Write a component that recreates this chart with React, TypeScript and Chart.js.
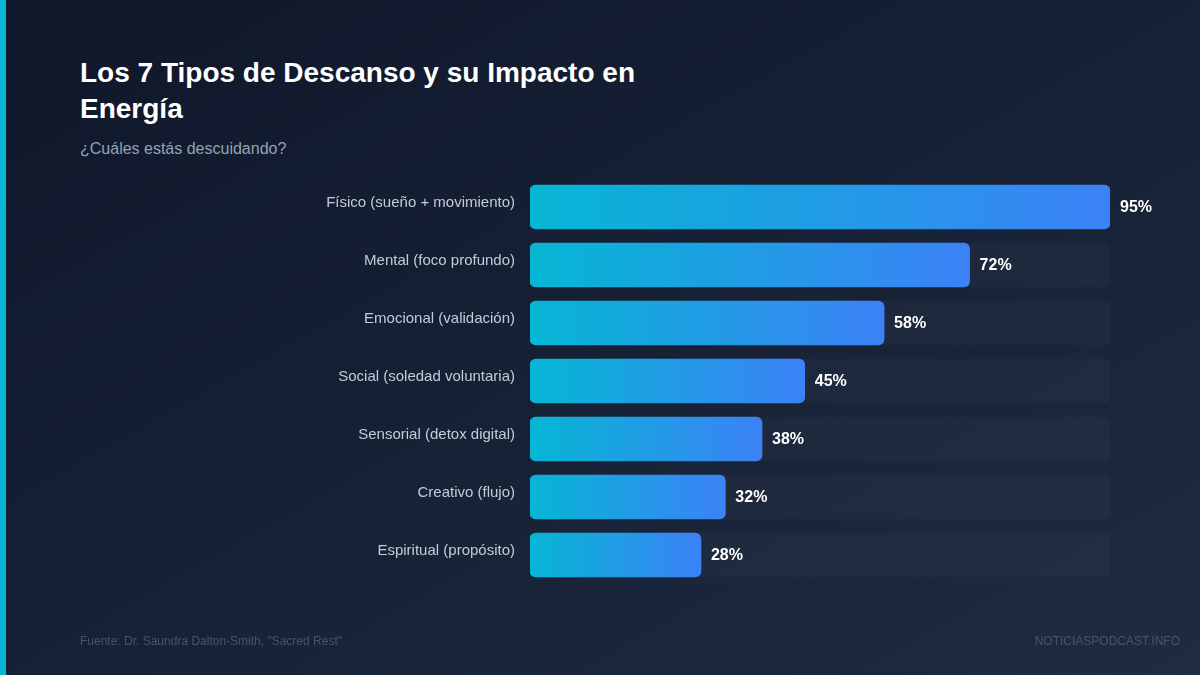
import { useRef, useEffect } from "react";
import { Chart, registerables } from "chart.js";
import type { Plugin } from "chart.js";

Chart.register(...registerables);

const CATEGORIES = [
  "Físico (sueño + movimiento)",
  "Mental (foco profundo)",
  "Emocional (validación)",
  "Social (soledad voluntaria)",
  "Sensorial (detox digital)",
  "Creativo (flujo)",
  "Espiritual (propósito)",
];
const VALUES = [95, 72, 58, 45, 38, 32, 28];
const TRACK = [95, 95, 95, 95, 95, 95, 95];

const FONT = "'Liberation Sans', Arial, sans-serif";

// value labels right after each bar
const valueLabels: Plugin<"bar"> = {
  id: "valueLabels",
  afterDatasetsDraw(chart) {
    const { ctx } = chart;
    const x = chart.scales.x;
    const y = chart.scales.y;
    ctx.save();
    ctx.font = `700 16px ${FONT}`;
    ctx.fillStyle = "#ffffff";
    ctx.textAlign = "left";
    ctx.textBaseline = "middle";
    VALUES.forEach((v, i) => {
      ctx.fillText(`${v}%`, x.getPixelForValue(v) + 10, y.getPixelForValue(i) + 1);
    });
    ctx.restore();
  },
};

export default function App() {
  const canvasRef = useRef<HTMLCanvasElement>(null);

  useEffect(() => {
    if (!canvasRef.current) return;
    document.body.style.margin = "0";

    const chart = new Chart(canvasRef.current, {
      type: "bar",
      data: {
        labels: CATEGORIES,
        datasets: [
          {
            label: "Impacto",
            data: VALUES,
            backgroundColor: (c: any) => {
              const scale = c.chart.scales.x;
              const x0 = scale?.getPixelForValue(0);
              const x1 = scale?.getPixelForValue(VALUES[c.dataIndex]);
              if (!Number.isFinite(x0) || !Number.isFinite(x1)) return "#06b6d4";
              const g = c.chart.ctx.createLinearGradient(x0, 0, x1, 0);
              g.addColorStop(0, "#06b6d4");
              g.addColorStop(1, "#3b82f6");
              return g;
            },
            borderRadius: 6,
            borderSkipped: false,
            barThickness: 44,
            grouped: false,
          },
          {
            label: "Pista",
            data: TRACK,
            backgroundColor: "rgba(255,255,255,0.022)",
            borderRadius: 6,
            borderSkipped: false,
            barThickness: 44,
            grouped: false,
          },
        ],
      },
      options: {
        indexAxis: "y",
        responsive: false,
        animation: false,
        layout: { padding: { left: 0, right: 90, top: 178, bottom: 91 } },
        plugins: {
          legend: { display: false },
          tooltip: { enabled: false },
        },
        scales: {
          x: { display: false, min: 0, max: 95 },
          y: {
            afterFit: (s: any) => {
              s.width = 530;
            },
            grid: { display: false, drawTicks: false },
            border: { display: false },
            ticks: {
              color: "#c3cbd7",
              padding: 15,
              font: { family: FONT, size: 15, lineHeight: "8px" },
              // empty second line lifts the label above the bar centre
              callback: (_v: any, i: number) => [CATEGORIES[i], ""],
            },
          },
        },
      },
      plugins: [valueLabels],
    });

    return () => chart.destroy();
  }, []);

  return (
    <div
      style={{
        position: "relative",
        width: 1200,
        height: 675,
        overflow: "hidden",
        background: "linear-gradient(to bottom right, #0f172a 0%, #1e2b41 100%)",
        fontFamily: FONT,
      }}
    >
      <div style={{ position: "absolute", left: 0, top: 0, width: 6, height: 675, background: "#06b6d4" }} />
      <div
        style={{
          position: "absolute",
          left: 80,
          top: 55,
          width: 600,
          color: "#ffffff",
          fontSize: 28,
          fontWeight: 700,
          lineHeight: "36px",
        }}
      >
        Los 7 Tipos de Descanso y su Impacto en Energía
      </div>
      <div style={{ position: "absolute", left: 80, top: 139, color: "#94a3b8", fontSize: 16, lineHeight: "20px" }}>
        ¿Cuáles estás descuidando?
      </div>
      <canvas ref={canvasRef} width={1200} height={675} style={{ position: "absolute", left: 0, top: 0 }} />
      <div style={{ position: "absolute", left: 80, top: 633, color: "#475569", fontSize: 12, lineHeight: "16px" }}>
        Fuente: Dr. Saundra Dalton-Smith, "Sacred Rest"
      </div>
      <div style={{ position: "absolute", right: 20, top: 633, color: "#475569", fontSize: 12, lineHeight: "16px" }}>
        NOTICIASPODCAST.INFO
      </div>
    </div>
  );
}
